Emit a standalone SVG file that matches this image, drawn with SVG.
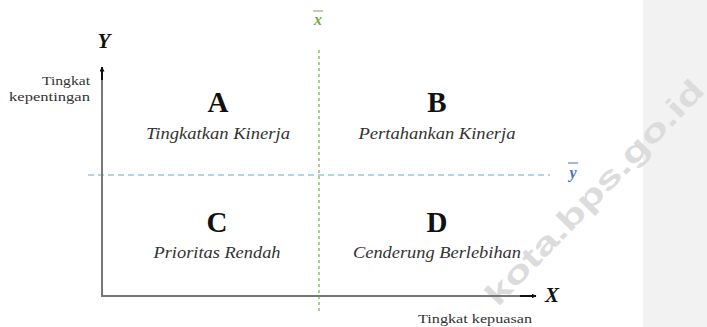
<svg xmlns="http://www.w3.org/2000/svg" width="707" height="327" viewBox="0 0 707 327">
<defs>
<marker id="arr" viewBox="0 0 10 10" refX="9" refY="5" markerWidth="5" markerHeight="5" markerUnits="userSpaceOnUse" orient="auto">
<path d="M0,0 L10,5 L0,10 z" fill="#111"/>
</marker>
</defs>
<style>
.big{font-family:"Liberation Serif","DejaVu Serif",serif;font-weight:bold;font-size:29px;fill:#111;text-anchor:middle}
.sub{font-family:"Liberation Serif","DejaVu Serif",serif;font-style:italic;font-size:16px;fill:#333;text-anchor:middle}
.ax{font-family:"Liberation Serif","DejaVu Serif",serif;font-size:13px;fill:#333}
.axl{font-family:"Liberation Serif","DejaVu Serif",serif;font-style:italic;font-weight:bold;font-size:21px;fill:#111;text-anchor:middle}
.axis{stroke:#777;stroke-width:2;fill:none}
</style>
<rect x="0" y="0" width="707" height="327" fill="#fff"/>
<rect x="643" y="0" width="64" height="327" fill="#f2f2f2"/>
<g id="watermark" transform="translate(594,192) rotate(-46)">
<text x="0" y="11" font-family="Liberation Sans,Arial,sans-serif" font-weight="bold" font-size="31" fill="#dcdcdc" text-anchor="middle" textLength="300" lengthAdjust="spacingAndGlyphs">kota.bps.go.id</text>
</g>
<g id="connectors">
<line x1="319" y1="50" x2="319" y2="313" stroke="#a9d18e" stroke-width="2" stroke-dasharray="3,3"/>
<line x1="88" y1="175" x2="550" y2="175" stroke="#9dc3e6" stroke-width="1.5" stroke-dasharray="6,4"/>
<polyline class="axis" points="102,70 102,296 532,296"/>
<line x1="102" y1="80" x2="102" y2="67" stroke="#111" stroke-width="2" marker-end="url(#arr)"/>
<line x1="520" y1="296" x2="536" y2="296" stroke="#111" stroke-width="2" marker-end="url(#arr)"/>
</g>
<g id="axis-y">
<text class="axl" x="104" y="48">Y</text>
<text class="ax" x="90" y="85" text-anchor="end" textLength="48" lengthAdjust="spacingAndGlyphs">Tingkat</text>
<text class="ax" x="90" y="101" text-anchor="end" textLength="81" lengthAdjust="spacingAndGlyphs">kepentingan</text>
</g>
<g id="axis-x">
<text class="axl" x="552" y="302">X</text>
<text class="ax" x="475" y="323" text-anchor="middle" textLength="114" lengthAdjust="spacingAndGlyphs">Tingkat kepuasan</text>
</g>
<g id="xbar">
<line x1="313" y1="11" x2="323" y2="11" stroke="#70ad47" stroke-width="1"/>
<text x="318" y="25" font-family="Liberation Serif,serif" font-style="italic" font-weight="bold" font-size="16" fill="#70ad47" text-anchor="middle">x</text>
</g>
<g id="ybar">
<line x1="568" y1="163" x2="578" y2="163" stroke="#4472c4" stroke-width="1"/>
<text x="573" y="178" font-family="Liberation Serif,serif" font-style="italic" font-weight="bold" font-size="16" fill="#4472c4" text-anchor="middle">y</text>
</g>
<g id="quad-A">
<text class="big" x="218" y="112">A</text>
<text class="sub" x="218" y="139" textLength="144" lengthAdjust="spacingAndGlyphs">Tingkatkan Kinerja</text>
</g>
<g id="quad-B">
<text class="big" x="437" y="112">B</text>
<text class="sub" x="437" y="139" textLength="157" lengthAdjust="spacingAndGlyphs">Pertahankan Kinerja</text>
</g>
<g id="quad-C">
<text class="big" x="217" y="232">C</text>
<text class="sub" x="217" y="258" textLength="127" lengthAdjust="spacingAndGlyphs">Prioritas Rendah</text>
</g>
<g id="quad-D">
<text class="big" x="437" y="232">D</text>
<text class="sub" x="437" y="258" textLength="168" lengthAdjust="spacingAndGlyphs">Cenderung Berlebihan</text>
</g>
</svg>
